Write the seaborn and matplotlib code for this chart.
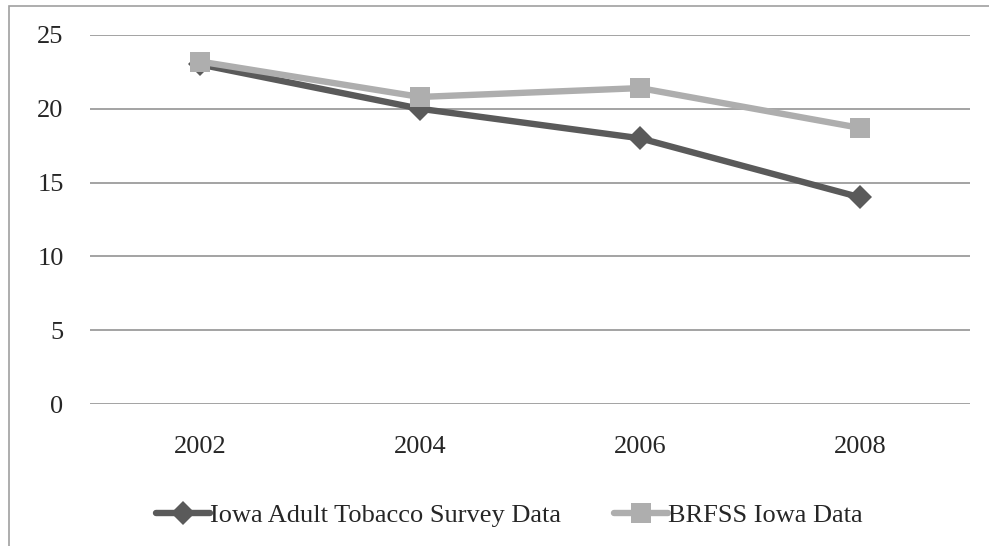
import matplotlib
matplotlib.use("Agg")
import matplotlib.pyplot as plt
import matplotlib.patches as mpatches
import seaborn as sns
import pandas as pd

years = ["2002", "2004", "2006", "2008"]
iowa_survey = [23.0, 20.0, 18.0, 14.0]
brfss_iowa = [23.2, 20.8, 21.4, 18.7]
series_names = ["Iowa Adult Tobacco Survey Data", "BRFSS Iowa Data"]
y_ticks = [0, 5, 10, 15, 20, 25]

sns.set_theme(style="white")
plt.rcParams["font.family"] = ["Liberation Serif", "DejaVu Serif"]

df = pd.DataFrame({
    "year": years * 2,
    "value": iowa_survey + brfss_iowa,
    "series": [series_names[0]] * len(years) + [series_names[1]] * len(years),
})

fig = plt.figure(figsize=(9.89, 5.46), dpi=100)
ax = fig.add_axes([0.091, 0.26, 0.89, 0.676])

# outer frame of the chart area
fig.patches.append(mpatches.Rectangle((9 / 989, -0.05), 1.2, 1 - 6 / 546 + 0.05,
                                      transform=fig.transFigure, fill=False,
                                      edgecolor="#a0a0a0", linewidth=1.2))

palette = {series_names[0]: "#5a5a5a", series_names[1]: "#aeaeae"}
markers = {series_names[0]: "D", series_names[1]: "s"}
marker_sizes = [12, 14]
lw = 4.6

sns.lineplot(data=df, x="year", y="value", hue="series", style="series",
             palette=palette, markers=markers, dashes=False, linewidth=lw,
             markersize=12, markeredgewidth=0, sort=False, ax=ax, legend=False)
for line, ms in zip(ax.lines, marker_sizes):
    line.set_markersize(ms)

ax.set_xlim(-0.5, 3.5)
ax.set_ylim(0, 25)
ax.set_yticks(y_ticks)
ax.grid(axis="y", color="#8a8a8a", linewidth=1.1)
ax.set_axisbelow(True)
for s in ax.spines.values():
    s.set_visible(False)
ax.set_xlabel("")
ax.set_ylabel("")
ax.tick_params(axis="y", length=0, pad=19, labelsize=19)
ax.tick_params(axis="x", length=0, pad=23, labelsize=19)

handles = [
    plt.Line2D([], [], color=palette[n], marker=markers[n], linewidth=lw,
               markersize=ms, markeredgewidth=0)
    for n, ms in zip(series_names, marker_sizes)
]
fig.legend(handles, series_names, loc="center", bbox_to_anchor=(0.515, 0.056),
           ncol=2, frameon=False, fontsize=19, handlelength=2.05,
           handletextpad=0.0, columnspacing=2.0)

fig.savefig("out.png", dpi=100)
